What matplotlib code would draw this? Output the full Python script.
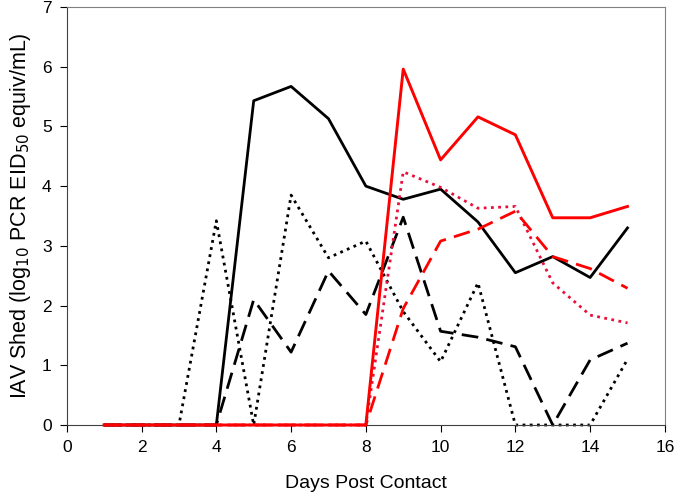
import numpy as np
import matplotlib.pyplot as plt

plt.rcParams['font.family'] = ['Liberation Sans', 'DejaVu Sans']

days = np.arange(1, 16)

# black series
blk_solid = [0, 0, 0, 0, 5.43, 5.67, 5.13, 4.0, 3.78, 3.95, 3.4, 2.55, 2.82, 2.47, 3.3]
blk_dash = [0, 0, 0, 0, 2.1, 1.22, 2.58, 1.85, 3.48, 1.57, 1.47, 1.31, 0, 1.09, 1.37]
blk_dot = [0, 0, 0, 3.42, 0, 3.85, 2.8, 3.08, 1.9, 1.06, 2.38, 0, 0, 0, 1.1]

# red series
red_solid = [0, 0, 0, 0, 0, 0, 0, 0, 5.96, 4.44, 5.16, 4.86, 3.47, 3.47, 3.66]
red_dash = [0, 0, 0, 0, 0, 0, 0, 0, 1.95, 3.08, 3.28, 3.58, 2.82, 2.62, 2.29]
red_dot = [0, 0, 0, 0, 0, 0, 0, 0, 4.24, 3.98, 3.63, 3.66, 2.38, 1.84, 1.71]

fig = plt.figure(figsize=(6.75, 5), dpi=100)
ax = fig.add_axes([0.099, 0.15, 0.886, 0.836])

lw = 2.0
ax.plot(days, blk_dot, color='black', lw=lw, linestyle=(0, (1, 1.6)), clip_on=False)
ax.plot(days, blk_dash, color='black', lw=lw, linestyle=(0, (6, 3)), clip_on=False)
ax.plot(days, blk_solid, color='black', lw=lw, clip_on=False)
ax.plot(days, red_dot, color='#e8103a', lw=lw, linestyle=(0, (1, 1.6)), clip_on=False)
ax.plot(days, red_dash, color='red', lw=lw, linestyle=(0, (6, 3)), clip_on=False)
ax.plot(days, red_solid, color='red', lw=2.1, clip_on=False, zorder=5)

ax.set_xlim(0, 16)
ax.set_ylim(0, 7)
ax.set_xticks(range(0, 17, 2))
ax.set_yticks(range(0, 8))
ax.tick_params(direction='out', length=5, labelsize=12.5, colors='black', pad=6)
for s in ['top', 'right']:
    ax.spines[s].set_color('#808080')
for s in ['left', 'bottom']:
    ax.spines[s].set_color('#404040')

ax.set_xlabel('Days Post Contact', fontsize=14, labelpad=14)
ax.set_ylabel('IAV Shed (log$_{10}$ PCR EID$_{50}$ equiv/mL)', fontsize=15.5, labelpad=6)

fig.savefig('out.png', dpi=100)
